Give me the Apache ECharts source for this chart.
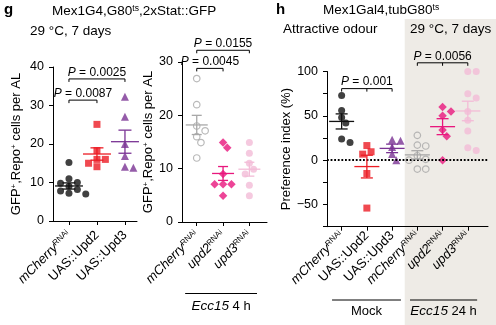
<!DOCTYPE html>
<html>
<head>
<meta charset="utf-8">
<script src="https://cdn.jsdelivr.net/npm/echarts@6/dist/echarts.min.js"></script>
<style>
html,body{margin:0;padding:0;background:#fff;}
#chart{width:496px;height:325px;}
</style>
</head>
<body>
<div id="chart"></div>
<script>
// ---- Panel g (left): GFP+,Repo+ cells per AL, Upd overexpression ----
const gLeftLabels = ['{it|mCherry}{sup|RNAi}', '{rm|UAS::Upd2}', '{rm|UAS::Upd3}'];
const gLeftCtrl = [15.2, 11.0, 10.0, 9.8, 9.0, 8.2, 7.8, 7.2, 7.0];
const gLeftUpd2 = [25.1, 18.3, 16.0, 16.0, 15.0, 14.1];
const gLeftUpd3 = [32.3, 27.1, 20.0, 16.9, 14.1, 13.8];
const gLeftMean = [9.1, 17.4, 20.6];
const gLeftSem = [0.8, 1.6, 3.0];
const gLeftBrackets = [[0, 1, 31.4], [0, 2, 36.9]];
const gLeftP = ['0.0087', '0.0025'];

// ---- Panel g (right): Ecc15 4 h, upd RNAi ----
const gRightLabels = ['{it|mCherry}{sup|RNAi}', '{it|upd2}{sup|RNAi}', '{it|upd3}{sup|RNAi}'];
const gRightCtrl = [26.9, 22.0, 18.0, 17.1, 16.0, 14.9, 12.0];
const gRightUpd2 = [14.9, 13.9, 9.0, 7.1, 7.1, 7.1, 4.9];
const gRightUpd3 = [14.9, 12.9, 11.0, 9.9, 9.0, 6.9, 4.9];
const gRightMean = [18.2, 9.1, 9.9];
const gRightSem = [1.8, 1.3, 1.3];
const gRightBrackets = [[0, 1, 28.8], [0, 2, 32.2]];
const gRightP = ['0.0045', '0.0155'];

// ---- Panel h: preference index, attractive odour ----
const hLabels = ['{it|mCherry}{sup|RNAi}', '{rm|UAS::Upd2}', '{rm|UAS::Upd3}',
                 '{it|mCherry}{sup|RNAi}', '{it|upd2}{sup|RNAi}', '{it|upd3}{sup|RNAi}'];
const hCtrlMock = [73, 56, 48, 42, 24, 20];
const hUpd2Mock = [16.5, 9.5, 6.8, -15, -54];
const hUpd3Mock = [23, 22, 15, 7, 0];
const hCtrlEcc = [28, 17, 16, 5, 1, 0, -10, -10];
const hUpd2Ecc = [60, 55, 50, 34, 27, 0];
const hUpd3Ecc = [100, 100, 75, 70, 55, 45, 33, 14, 11];
const hMean = [43.7, -7.2, 13.3, 6.0, 37.8, 55.5];
const hSem = [8.5, 12.8, 4.8, 4.7, 9.0, 11.0];
const hBrackets = [[0, 2, 80.7, 1], [3, 5, 109.8, 4]];
const hP = ['0.001', '0.0056'];
const hYTicks = [-50, 0, 50, 100];

const FONT = "'Liberation Sans', Arial, Helvetica, sans-serif";
const BLACK = '#111111';
const RED = '#ec1c24';
const PURPLE = '#7a3394';
const GREY = '#a8a8a8';
const PINK = '#e8177d';
const LIGHTPINK = '#f3bcd7';

const GRIDS = [
  { left: 53, top: 67, width: 84, height: 154, xMin: -0.57, xMax: 2.43, yMin: 0, yMax: 40 },
  { left: 182, top: 62, width: 85, height: 160, xMin: -0.56, xMax: 2.67, yMin: 0, yMax: 30 },
  { left: 327, top: 71.5, width: 161, height: 155.2, xMin: -0.58, xMax: 5.8, yMin: -75, yMax: 100 }
];

const richLabel = {
  it: { fontStyle: 'italic', fontSize: 13, fontFamily: FONT, color: '#000' },
  rm: { fontSize: 13, fontFamily: FONT, color: '#000' },
  sup: { fontSize: 8, fontFamily: FONT, color: '#000', verticalAlign: 'top' }
};

// simple deterministic beeswarm: sideways dodge so markers don't overlap
function swarm(values, g, idx, d) {
  const pxY = g.height / (g.yMax - g.yMin);
  const pxX = g.width / (g.xMax - g.xMin);
  const order = values.map((v, i) => i).sort((a, b) => values[b] - values[a]);
  const placed = [];
  const out = new Array(values.length);
  const step = d * 0.6;
  order.forEach(i => {
    const y = values[i] * pxY;
    let off = 0;
    for (let k = 0; k < 20; k++) {
      const cand = k === 0 ? 0 : (k % 2 ? 1 : -1) * Math.ceil(k / 2) * step;
      const ok = placed.every(p => Math.hypot(cand - p[0], y - p[1]) >= d * 0.95);
      if (ok) { off = cand; break; }
    }
    placed.push([off, y]);
    out[i] = [idx + off / pxX, values[i]];
  });
  return out;
}

function pointSeries(gi, idx, values, symbol, size, color, hollow) {
  return {
    type: 'scatter', xAxisIndex: gi, yAxisIndex: gi, z: 3,
    symbol, symbolSize: size,
    itemStyle: hollow
      ? { color: 'rgba(0,0,0,0)', borderColor: color, borderWidth: 1.2 }
      : { color },
    silent: true,
    data: swarm(values, GRIDS[gi], idx, 7)
  };
}

function meanSemSeries(gi, means, sems, colors, meanW, capW) {
  return {
    type: 'custom', xAxisIndex: gi, yAxisIndex: gi, z: 5, silent: true, clip: false,
    data: means.map((m, i) => [i, m, sems[i]]),
    renderItem(params, api) {
      const i = api.value(0), m = api.value(1), s = api.value(2);
      const c = api.coord([i, m]), t = api.coord([i, m + s]), b = api.coord([i, m - s]);
      const st = { stroke: colors[params.dataIndex], lineWidth: 1.3 };
      return {
        type: 'group', children: [
          { type: 'line', shape: { x1: c[0] - meanW / 2, y1: c[1], x2: c[0] + meanW / 2, y2: c[1] }, style: st },
          { type: 'line', shape: { x1: t[0], y1: t[1], x2: b[0], y2: b[1] }, style: st },
          { type: 'line', shape: { x1: t[0] - capW / 2, y1: t[1], x2: t[0] + capW / 2, y2: t[1] }, style: st },
          { type: 'line', shape: { x1: b[0] - capW / 2, y1: b[1], x2: b[0] + capW / 2, y2: b[1] }, style: st }
        ]
      };
    }
  };
}

function bracketSeries(gi, brackets, pLabels) {
  return {
    type: 'custom', xAxisIndex: gi, yAxisIndex: gi, z: 6, silent: true, clip: false,
    data: brackets.map(b => [b[0], b[1], b[2], b.length > 3 ? b[3] : -1]),
    renderItem(params, api) {
      const a = api.coord([api.value(0), api.value(2)]);
      const b = api.coord([api.value(1), api.value(2)]);
      const tk = 3;
      const st = { stroke: '#000', lineWidth: 1, fill: null };
      const kids = [
        { type: 'polyline', shape: { points: [[a[0], a[1] + tk], [a[0], a[1]], [b[0], b[1]], [b[0], b[1] + tk]] }, style: st }
      ];
      const mid = api.value(3);
      if (mid >= 0) {
        const m = api.coord([mid, api.value(2)]);
        kids.push({ type: 'line', shape: { x1: m[0], y1: m[1], x2: m[0], y2: m[1] + tk }, style: st });
      }
      kids.push({
        type: 'text',
        style: {
          x: (a[0] + b[0]) / 2, y: a[1] - 0.5,
          text: '{i|P} = ' + pLabels[params.dataIndex],
          align: 'center', verticalAlign: 'bottom',
          fontSize: 12, fontFamily: FONT, fill: '#000',
          rich: { i: { fontStyle: 'italic', fontSize: 12, fontFamily: FONT, fill: '#000' } }
        }
      });
      return { type: 'group', children: kids };
    }
  };
}

function xAxisCfg(gi, labels, margin) {
  const g = GRIDS[gi];
  const pos = labels.map((_, i) => i);
  return {
    type: 'value', gridIndex: gi, min: g.xMin, max: g.xMax,
    axisLine: { show: true, onZero: false, lineStyle: { color: '#000', width: 1 } },
    axisTick: { show: true, customValues: pos, length: 4, lineStyle: { color: '#000', width: 1 } },
    axisLabel: {
      customValues: pos, rotate: 45, margin, color: '#000',
      fontSize: 13, fontFamily: FONT,
      formatter: v => labels[Math.round(v)], rich: richLabel
    },
    splitLine: { show: false }
  };
}

function yAxisCfg(gi, interval, name, nameGap, fmt) {
  const g = GRIDS[gi];
  return {
    type: 'value', gridIndex: gi, min: g.yMin, max: g.yMax, interval,
    axisLine: { show: true, onZero: false, lineStyle: { color: '#000', width: 1 } },
    axisTick: { show: true, length: 4, lineStyle: { color: '#000', width: 1 } },
    axisLabel: { margin: 9, color: '#000', fontSize: 12.5, fontFamily: FONT, formatter: fmt },
    splitLine: { show: false },
    name, nameLocation: 'middle', nameGap, nameRotate: 90,
    nameTextStyle: {
      color: '#000', fontSize: 13, fontFamily: FONT,
      rich: { s: { fontSize: 8, fontFamily: FONT, color: '#000', verticalAlign: 'top' } }
    }
  };
}

const hFmt = v => hYTicks.indexOf(v) >= 0 ? (v < 0 ? '\u2212' + Math.abs(v) : String(v)) : '';

const chart = echarts.init(document.getElementById('chart'), null, { renderer: 'canvas' });

const option = {
  animation: false,
  backgroundColor: '#fff',
  grid: GRIDS.map(g => ({ left: g.left, top: g.top, width: g.width, height: g.height, containLabel: false })),
  xAxis: [xAxisCfg(0, gLeftLabels, 12), xAxisCfg(1, gRightLabels, 11), xAxisCfg(2, hLabels, 7)],
  yAxis: [
    yAxisCfg(0, 10, 'GFP{s|+},Repo{s|+} cells per AL', 30, null),
    yAxisCfg(1, 10, 'GFP{s|+},Repo{s|+} cells per AL', 27, null),
    yAxisCfg(2, 25, 'Preference index (%)', 34, hFmt)
  ],
  series: [
    pointSeries(0, 0, gLeftCtrl, 'circle', 7, BLACK),
    pointSeries(0, 1, gLeftUpd2, 'rect', 7, RED),
    pointSeries(0, 2, gLeftUpd3, 'triangle', 8, PURPLE),
    meanSemSeries(0, gLeftMean, gLeftSem, [BLACK, RED, PURPLE], 28, 13),
    bracketSeries(0, gLeftBrackets, gLeftP),

    pointSeries(1, 0, gRightCtrl, 'circle', 6.5, GREY, true),
    pointSeries(1, 1, gRightUpd2, 'diamond', 8.5, PINK),
    pointSeries(1, 2, gRightUpd3, 'circle', 7, LIGHTPINK),
    meanSemSeries(1, gRightMean, gRightSem, [GREY, PINK, LIGHTPINK], 22, 10),
    bracketSeries(1, gRightBrackets, gRightP),

    {
      type: 'scatter', xAxisIndex: 2, yAxisIndex: 2, data: [], z: 1, silent: true,
      markLine: {
        silent: true, symbol: 'none', label: { show: false },
        lineStyle: { color: '#000', width: 1.8, type: [1.8, 1.8] },
        data: [{ yAxis: 0 }]
      }
    },
    pointSeries(2, 0, hCtrlMock, 'circle', 7, BLACK),
    pointSeries(2, 1, hUpd2Mock, 'rect', 7, RED),
    pointSeries(2, 2, hUpd3Mock, 'triangle', 8, PURPLE),
    pointSeries(2, 3, hCtrlEcc, 'circle', 6.5, GREY, true),
    pointSeries(2, 4, hUpd2Ecc, 'diamond', 8.5, PINK),
    pointSeries(2, 5, hUpd3Ecc, 'circle', 7, LIGHTPINK),
    meanSemSeries(2, hMean, hSem, [BLACK, RED, PURPLE, GREY, PINK, LIGHTPINK], 25, 12),
    bracketSeries(2, hBrackets, hP)
  ]
};
chart.setOption(option);

// annotations: panel letters, titles, group underlines and the shaded infection block
const px = (gi, x) => chart.convertToPixel({ xAxisIndex: gi, yAxisIndex: gi }, [x, 0])[0];
const txt = (x, y, text, extra) => ({
  type: 'text', x, y,
  style: Object.assign({
    text, fill: '#000', fontSize: 13.5, fontFamily: FONT, verticalAlign: 'middle', align: 'left',
    rich: {
      s: { fontSize: 8.5, fontFamily: FONT, fill: '#000', verticalAlign: 'top' },
      i: { fontStyle: 'italic', fontSize: 13.5, fontFamily: FONT, fill: '#000' }
    }
  }, extra || {})
});
const hline = (x1, x2, y) => ({ type: 'line', shape: { x1, y1: y, x2, y2: y }, style: { stroke: '#000', lineWidth: 1 } });

const shadeLeft = px(2, 2.5);
const mockL = px(2, -0.38), mockR = px(2, 2.35);
const eccL = px(2, 2.71), eccR = px(2, 5.37);
const g4L = px(1, -0.44), g4R = px(1, 2.29);

chart.setOption({
  graphic: [
    { type: 'rect', z: -10, shape: { x: shadeLeft, y: 19, width: 496 - shadeLeft, height: 306 }, style: { fill: '#eeebe6' } },
    txt(4, 10, 'g', { fontWeight: 'bold', fontSize: 15 }),
    txt(52, 11, 'Mex1G4,G80{s|ts},2xStat::GFP'),
    txt(30, 31, '29 \u00b0C, 7 days'),
    txt(276, 10, 'h', { fontWeight: 'bold', fontSize: 15 }),
    txt(323, 10, 'Mex1Gal4,tubG80{s|ts}'),
    txt(283, 29, 'Attractive odour'),
    txt(410, 29, '29 \u00b0C, 7 days'),
    hline(g4L, g4R, 293.5),
    txt((g4L + g4R) / 2, 306.5, '{i|Ecc15} 4 h', { align: 'center', fontSize: 13 }),
    hline(mockL, mockR, 300),
    txt((mockL + mockR) / 2, 311.5, 'Mock', { align: 'center', fontSize: 13 }),
    hline(eccL, eccR, 300),
    txt((eccL + eccR) / 2, 311.5, '{i|Ecc15} 24 h', { align: 'center', fontSize: 13 })
  ]
});
</script>
</body>
</html>
